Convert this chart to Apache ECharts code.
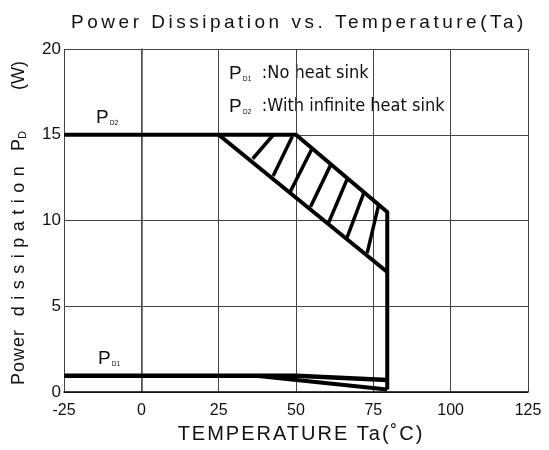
<!DOCTYPE html>
<html>
<head>
<meta charset="utf-8">
<script src="https://cdn.jsdelivr.net/npm/echarts@6/dist/echarts.min.js"></script>
<style>
  html, body { margin: 0; padding: 0; background: #fff; }
  #main { width: 549px; height: 450px; }
</style>
</head>
<body>
<div id="main"></div>
<script>
// axis ticks
var xTicks = [-25, 0, 25, 50, 75, 100, 125];
var yTicks = [0, 5, 10, 15, 20];

// PD2 : with infinite heat sink (upper edge and lower edge of the band)
var pd2Upper = [[-25, 15], [50, 15], [79.5, 10.5], [79.5, 0.15]];
var pd2Lower = [[25, 15], [79.5, 7.0]];
// hatch strokes between the two PD2 edges [from, to]
var hatch = [
  [[36.0, 13.6], [42.7, 15.0]],
  [[42.6, 12.6], [48.8, 14.9]],
  [[48.2, 11.7], [55.2, 14.2]],
  [[54.7, 10.8], [61.1, 13.2]],
  [[60.6, 9.9], [66.5, 12.4]],
  [[66.5, 9.0], [71.9, 11.6]],
  [[73.0, 8.1], [76.7, 10.9]]
];

// PD1 : no heat sink
var pd1Upper = [[-25, 0.95], [50, 0.95], [79.5, 0.7]];
var pd1Lower = [[37, 0.95], [79.5, 0.15]];

var narrow = '"Liberation Sans Narrow", "DejaVu Sans Condensed", "Liberation Sans", sans-serif';
var sans = '"Liberation Sans", Arial, sans-serif';

// the scanned figure has widely spaced lettering in a few texts
var spacing = {
  'Power Dissipation vs. Temperature(Ta)': '3.5px',
  'TEMPERATURE Ta(˚C)': '2px',
  'Power': '1px',
  'dissipation': '6.5px'
};
var fill = CanvasRenderingContext2D.prototype.fillText;
CanvasRenderingContext2D.prototype.fillText = function (t) {
  var ls = spacing[t];
  if (ls && 'letterSpacing' in this) {
    this.save();
    this.letterSpacing = ls;
    this.font = this.font;
    fill.apply(this, arguments);
    this.restore();
    return;
  }
  return fill.apply(this, arguments);
};

var myChart = echarts.init(document.getElementById('main'));

function lineSeries(data, w) {
  return {
    type: 'line',
    data: data,
    showSymbol: false,
    symbol: 'none',
    silent: true,
    lineStyle: { color: '#000', width: w },
    z: 5
  };
}

// rotated y axis name pieces
function yName(text, y, rich) {
  return {
    type: 'text',
    x: 19, y: y,
    rotation: Math.PI / 2,
    style: {
      text: text,
      fontFamily: sans, fontSize: 18, fill: '#111',
      align: 'center', verticalAlign: 'middle',
      rich: rich
    }
  };
}

var subRich = {
  p: { fontFamily: sans, fontSize: 19, fill: '#111' },
  s: { fontFamily: narrow, fontSize: 7, fill: '#111', padding: [11, 0, 0, 1] }
};

var option = {
  animation: false,
  backgroundColor: '#fff',
  title: {
    text: 'Power Dissipation vs. Temperature(Ta)',
    left: 294,
    textAlign: 'center',
    top: 8,
    textStyle: { fontFamily: sans, fontSize: 19, fontWeight: 'normal', color: '#111' }
  },
  grid: { left: 64, right: 21, top: 49, bottom: 58 },
  xAxis: {
    type: 'value',
    min: xTicks[0],
    max: xTicks[xTicks.length - 1],
    interval: 25,
    name: 'TEMPERATURE Ta(˚C)',
    nameLocation: 'middle',
    nameGap: 32,
    nameTextStyle: { fontFamily: sans, fontSize: 20, color: '#111', padding: [0, 0, 0, 10] },
    axisLine: { lineStyle: { color: '#000', width: 1.5 } },
    axisTick: { show: false },
    axisLabel: { fontFamily: sans, fontSize: 16, color: '#111', margin: 11 },
    splitLine: { show: true, lineStyle: { color: '#444', width: 1 } }
  },
  yAxis: {
    type: 'value',
    min: yTicks[0],
    max: yTicks[yTicks.length - 1],
    interval: 5,
    axisLine: { show: true, lineStyle: { color: '#555', width: 1.5 } },
    axisTick: { show: false },
    axisLabel: { fontFamily: sans, fontSize: 17, color: '#111', margin: 3 },
    splitLine: { show: true, lineStyle: { color: '#444', width: 1 } }
  },
  graphic: [
    yName('Power', 357),
    yName('dissipation', 238),
    yName('{p|P}{d|D}', 141, {
      p: { fontFamily: sans, fontSize: 18, fill: '#111' },
      d: { fontFamily: sans, fontSize: 11, fill: '#111', verticalAlign: 'bottom', padding: [8, 0, 0, 0] }
    }),
    yName('(W)', 75.5),
    {
      type: 'text', x: 229, y: 64,
      style: { text: '{p|P}{s|D1}  :No heat sink', fontFamily: narrow, fontSize: 18, fill: '#111', rich: subRich }
    },
    {
      type: 'text', x: 229, y: 97,
      style: { text: '{p|P}{s|D2}  :With infinite heat sink', fontFamily: narrow, fontSize: 18, fill: '#111', rich: subRich }
    },
    {
      type: 'text', x: 96, y: 108,
      style: { text: '{p|P}{s|D2}', rich: subRich }
    },
    {
      type: 'text', x: 98, y: 349,
      style: { text: '{p|P}{s|D1}', rich: subRich }
    }
  ],
  series: [
    lineSeries(pd2Upper, 4),
    lineSeries(pd2Lower, 4),
    {
      type: 'lines',
      coordinateSystem: 'cartesian2d',
      silent: true,
      lineStyle: { color: '#000', width: 3.5, opacity: 1 },
      data: hatch.map(function (h) { return { coords: h }; }),
      z: 5
    },
    lineSeries(pd1Upper, 4.5),
    lineSeries(pd1Lower, 4)
  ]
};

myChart.setOption(option);
</script>
</body>
</html>
